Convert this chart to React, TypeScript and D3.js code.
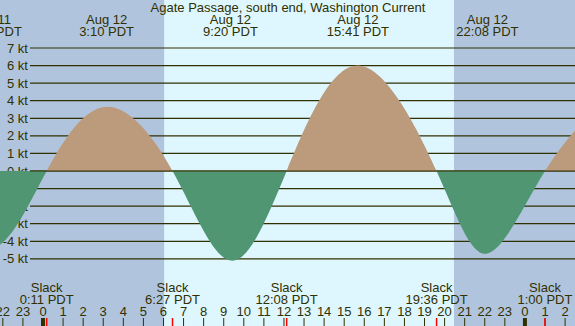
import { useRef, useEffect } from "react";
import * as d3 from "d3";

// tide events: day offset from Aug 12, clock time, current in knots
const eventDays = [-1, -1, 0, 0, 0, 0, 0, 0, 0, 0, 1, 1];
const eventTimes = ["18:33", "21:24", "0:11", "3:10", "6:27", "9:20", "12:08", "15:41", "19:36", "22:08", "1:00", "4:06"];
const eventValues = [0, -4.4, 0, 3.65, 0, -5.1, 0, 6.0, 0, -4.7, 0, 4.2];
const dayNames = ["Aug 11", "Aug 12", "Aug 13"];

const sunrise = "6:02";
const sunset = "20:28";

const yTicks = [-5, -4, -3, -2, -1, 0, 1, 2, 3, 4, 5, 6, 7];
const hourTicks = d3.range(-2, 27);

const title = "Agate Passage, south end, Washington Current";

const W = 575;
const H = 326;
const BG_NIGHT = "#b0c4de";
const BG_DAY = "#def6fe";
const FLOOD = "#bc9b7c";
const EBB = "#519672";
const INK = "#303000";
const FONT = "'Liberation Sans', Arial, sans-serif";

const toHours = (t: string, day = 0) => {
  const [h, m] = t.split(":").map(Number);
  return day * 24 + h + m / 60;
};

export default function App() {
  const ref = useRef<SVGSVGElement>(null);

  useEffect(() => {
    if (!ref.current) return;
    const svg = d3.select(ref.current);
    svg.selectAll("*").remove();

    const x = d3.scaleLinear().domain([-43 / 20.08, (W - 43) / 20.08]).range([0, W]);
    const y = d3.scaleLinear().domain([0, 7]).range([171, 48]);

    const pts = eventTimes.map((t, i) => ({
      h: toHours(t, eventDays[i]),
      v: eventValues[i],
      t,
      day: eventDays[i],
    }));

    // background night / day
    const rise = toHours(sunrise);
    const set = toHours(sunset);
    svg.append("rect").attr("width", W).attr("height", H).attr("fill", BG_NIGHT);
    svg.append("rect")
      .attr("x", x(rise)).attr("y", 0)
      .attr("width", x(set) - x(rise)).attr("height", H)
      .attr("fill", BG_DAY);

    // grid lines
    yTicks.forEach((k) => {
      svg.append("line")
        .attr("x1", 30).attr("x2", W)
        .attr("y1", y(k)).attr("y2", y(k))
        .attr("stroke", INK).attr("stroke-width", 1.2);
      svg.append("text")
        .attr("x", 28).attr("y", y(k) + 4.5)
        .attr("text-anchor", "end")
        .style("font-family", FONT).style("font-size", "13px")
        .attr("fill", INK)
        .text(`${k} kt`);
    });

    // current area, split at zero
    const area = d3.area<{ h: number; v: number }>()
      .x((d) => x(d.h))
      .y0(y(0))
      .y1((d) => y(d.v))
      .curve(d3.curveNatural);

    const defs = svg.append("defs");
    defs.append("clipPath").attr("id", "above")
      .append("rect").attr("x", 0).attr("y", 0).attr("width", W).attr("height", y(0));
    defs.append("clipPath").attr("id", "below")
      .append("rect").attr("x", 0).attr("y", y(0)).attr("width", W).attr("height", H - y(0));

    svg.append("path").datum(pts).attr("d", area as any)
      .attr("fill", FLOOD).attr("clip-path", "url(#above)");
    svg.append("path").datum(pts).attr("d", area as any)
      .attr("fill", EBB).attr("clip-path", "url(#below)");

    svg.append("line")
      .attr("x1", 30).attr("x2", W)
      .attr("y1", y(0)).attr("y2", y(0))
      .attr("stroke", INK).attr("stroke-width", 1.2);

    // title
    svg.append("text")
      .attr("x", 288).attr("y", 12)
      .attr("text-anchor", "middle")
      .style("font-family", FONT).style("font-size", "13px")
      .attr("fill", INK)
      .text(title);

    // max / slack labels (only those that reach into the picture)
    pts.filter((p) => x(p.h) > -35 && x(p.h) < W + 35).forEach((p) => {
      const label = `${p.t} PDT`;
      const g = svg.append("g").attr("fill", INK)
        .style("font-family", FONT).style("font-size", "13px")
        .attr("text-anchor", "middle");
      if (p.v !== 0) {
        g.append("text").attr("x", x(p.h)).attr("y", 24).text(dayNames[p.day + 1]);
        g.append("text").attr("x", x(p.h)).attr("y", 36).text(label);
      } else {
        g.append("text").attr("x", x(p.h)).attr("y", 292).text("Slack");
        g.append("text").attr("x", x(p.h)).attr("y", 304).text(label);
      }
    });

    // hour axis
    hourTicks.forEach((h) => {
      const hh = ((h % 24) + 24) % 24;
      svg.append("text")
        .attr("x", x(h)).attr("y", 316)
        .attr("text-anchor", "middle")
        .style("font-family", FONT).style("font-size", "13px")
        .attr("fill", INK)
        .text(hh);
      svg.append("line")
        .attr("x1", x(h)).attr("x2", x(h))
        .attr("y1", 318).attr("y2", H)
        .attr("stroke", INK)
        .attr("stroke-width", hh === 0 ? 4 : 1);
    });

    pts.filter((p) => p.v === 0).forEach((p) => {
      svg.append("line")
        .attr("x1", x(p.h)).attr("x2", x(p.h))
        .attr("y1", 318).attr("y2", H)
        .attr("stroke", "#ff0000")
        .attr("stroke-width", 1.5);
    });
  }, []);

  return (
    <svg
      ref={ref}
      width={W}
      height={H}
      style={{ position: "absolute", left: 0, top: 0, display: "block" }}
    />
  );
}
